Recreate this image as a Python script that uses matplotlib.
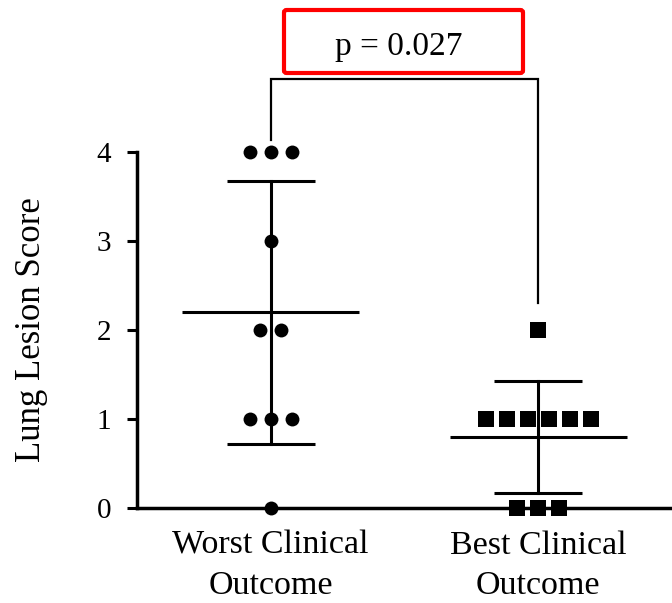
import numpy as np
import matplotlib
matplotlib.use("Agg")
import matplotlib.pyplot as plt
from matplotlib.patches import FancyBboxPatch

plt.rcParams["font.family"] = ["Liberation Serif", "DejaVu Serif"]

# data
group_labels = ["Worst Clinical\nOutcome", "Best Clinical\nOutcome"]
worst_scores = [4, 4, 4, 3, 2, 2, 1, 1, 1, 0]
best_scores = [2, 1, 1, 1, 1, 1, 1, 0, 0, 0]
group_markers = ["o", "s"]
p_text = "p = 0.027"


def swarm_offsets(values, spacing):
    values = np.asarray(values)
    offsets = np.zeros(len(values))
    for v in np.unique(values):
        idx = np.where(values == v)[0]
        n = len(idx)
        offsets[idx] = (np.arange(n) - (n - 1) / 2) * spacing
    return offsets


fig = plt.figure(figsize=(6.72, 6.03), dpi=100)
ax = fig.add_axes([137 / 672, 1 - 508 / 603, 1 - 137 / 672, 356 / 603])

spacing = 0.0787
for i, (scores, marker) in enumerate(zip([worst_scores, best_scores], group_markers)):
    scores = np.asarray(scores, dtype=float)
    mean = scores.mean()
    sd = scores.std(ddof=1)
    xs = i + swarm_offsets(scores, spacing)
    size = 100 if marker == "o" else 118
    ax.scatter(xs, scores, s=size, marker=marker, color="black", linewidths=0,
               zorder=3, clip_on=False)
    ax.plot([i - 0.33, i + 0.33], [mean, mean], color="black", lw=2.2, zorder=2,
            solid_capstyle="butt")
    ax.plot([i, i], [mean - sd, mean + sd], color="black", lw=2.2, zorder=2)
    for y in (mean - sd, mean + sd):
        ax.plot([i - 0.165, i + 0.165], [y, y], color="black", lw=2.2, zorder=2,
                solid_capstyle="butt")

# significance bracket
top = 4.82
ax.plot([0, 0, 1, 1], [max(worst_scores) + 0.13, top, top, max(best_scores) + 0.3],
        color="black", lw=1.6, clip_on=False, solid_joinstyle="miter")

box = FancyBboxPatch((284 / 672, 1 - 73 / 603), 239 / 672, 63 / 603,
                     boxstyle="round,pad=0,rounding_size=0.004",
                     transform=fig.transFigure, fill=False, edgecolor="#ff0000", lw=3)
fig.patches.append(box)
fig.text(399 / 672, 1 - 47 / 603, p_text, ha="center", va="center", fontsize=24)

ax.set_xlim(-0.5, 1.5)
ax.set_ylim(0, 4)
ax.set_yticks([0, 1, 2, 3, 4])
ax.set_xticks([0, 1])
ax.set_xticklabels(group_labels, fontsize=24.5, linespacing=1.4)
ax.tick_params(axis="y", labelsize=21, length=7.5, width=2.2, pad=11)
ax.tick_params(axis="x", length=0, pad=16)
ax.set_ylabel("Lung Lesion Score", fontsize=25, labelpad=35)

for side in ("top", "right"):
    ax.spines[side].set_visible(False)
for side in ("left", "bottom"):
    ax.spines[side].set_linewidth(2.5)

fig.savefig("out.png", dpi=100)
